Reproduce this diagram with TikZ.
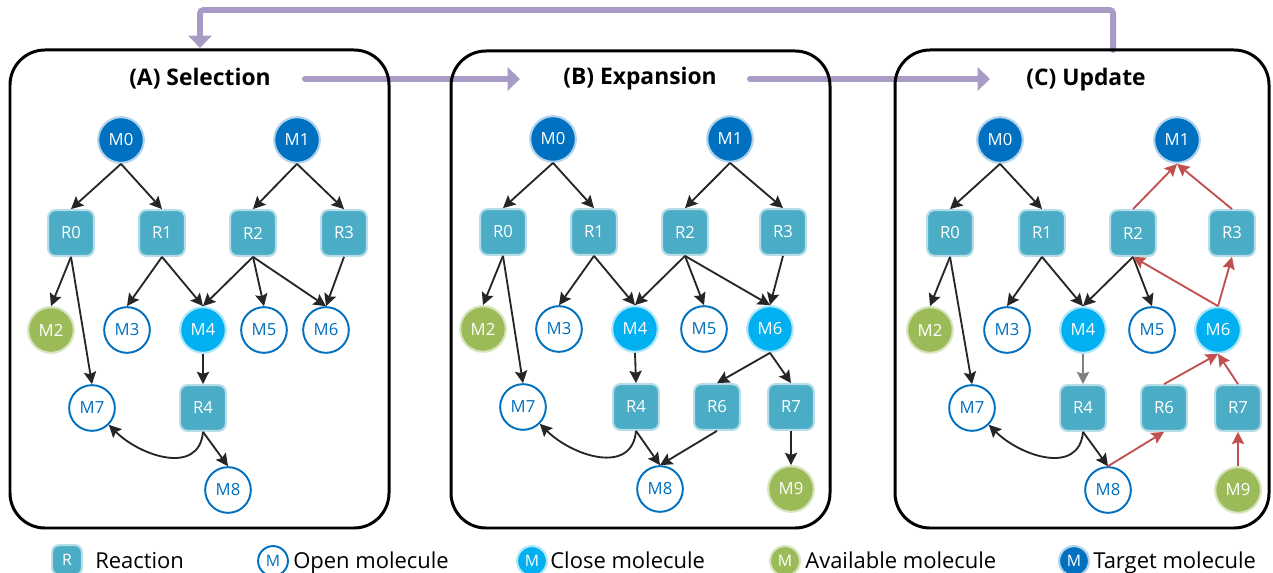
\documentclass[tikz,border=0pt]{standalone}
\usepackage{fontspec}
\setmainfont{Open Sans}
\usetikzlibrary{arrows.meta, positioning, calc}

\definecolor{tgtblue}{HTML}{0070C0}
\definecolor{clsblue}{HTML}{00B0F0}
\definecolor{avgreen}{HTML}{9BBB59}
\definecolor{rxteal}{HTML}{4BACC6}
\definecolor{flowpurple}{HTML}{A89BC6}
\definecolor{updred}{HTML}{C0504D}
\definecolor{edgeblack}{HTML}{262626}

\begin{document}
\begin{tikzpicture}[
    x=0.02cm, y=-0.02cm,
    mol/.style={circle, minimum size=26pt, inner sep=0pt, font=\fontsize{9.5}{11}\selectfont},
    targetmol/.style={mol, fill=tgtblue, draw=tgtblue!30, line width=1.2pt, text=white},
    closemol/.style={mol, fill=clsblue, draw=clsblue!30, line width=1.2pt, text=white},
    availmol/.style={mol, fill=avgreen, draw=avgreen!40, line width=1.2pt, text=white},
    openmol/.style={mol, fill=white, draw=tgtblue, line width=1.1pt, text=tgtblue},
    rxn/.style={rectangle, rounded corners=4pt, minimum size=26pt, inner sep=0pt, fill=rxteal, draw=rxteal!40, line width=1.2pt, text=white, font=\fontsize{9.5}{11}\selectfont},
    arr/.style={-{Stealth[length=7pt, width=7pt, inset=1.2pt]}, line width=1.05pt, edgeblack},
    redarr/.style={arr, updred},
    grayarr/.style={arr, black!50},
    flow/.style={line width=3.4pt, flowpurple, -{Triangle[length=7pt, width=13pt]}, line cap=round},
    panel/.style={line width=1.7pt, rounded corners=0.7cm},
    ptitle/.style={font=\bfseries\fontsize{13}{15}\selectfont},
    legtxt/.style={anchor=base west, inner sep=0pt, font=\fontsize{12.5}{15}\selectfont},
]
\useasboundingbox (0,0) rectangle (1273,573);

% ── Flow between stages ──
\coordinate (fbStart) at (1113,50);
\coordinate (fbEnd) at (200,48);
\coordinate (abStart) at (305,79);
\coordinate (abEnd) at (520,79);
\coordinate (bcStart) at (750,79);
\coordinate (bcEnd) at (990,79);
\draw[flow, rounded corners=2pt] (fbStart) -- ++(0,-40) -| (fbEnd);
\draw[flow] (abStart) -- (abEnd);
\draw[flow] (bcStart) -- (bcEnd);

% ── Panels ──
\draw[panel] (10,50) rectangle (389,528);
\draw[panel] (451,51) rectangle (830,528);
\draw[panel] (895,50) rectangle (1269,528);

\node[ptitle] (tA) at (200,79) {(A) Selection};
\node[ptitle] (tB) at (640,79) {(B) Expansion};
\node[ptitle] (tC) at (1086,80) {(C) Update};

% ── (A) Selection ──
\node[targetmol] (aM0) at (121,140) {M0};
\node[targetmol] (aM1) at (297,140) {M1};
\node[rxn] (aR0) at (71,233) {R0};
\node[rxn] (aR1) at (162,233) {R1};
\node[rxn] (aR2) at (253,233) {R2};
\node[rxn] (aR3) at (344,233) {R3};
\node[availmol] (aM2) at (51,330) {M2};
\node[openmol] (aM3) at (127,330) {M3};
\node[closemol] (aM4) at (203,330) {M4};
\node[openmol] (aM5) at (264,330) {M5};
\node[openmol] (aM6) at (326,330) {M6};
\node[openmol] (aM7) at (92,408) {M7};
\node[rxn] (aR4) at (203,408) {R4};
\node[openmol] (aM8) at (228,490) {M8};

\draw[arr] (aM0.south) -- (aR0.north);
\draw[arr] (aM0.south) -- (aR1.north);
\draw[arr] (aM1.south) -- (aR2.north);
\draw[arr] (aM1.south) -- (aR3.north);
\draw[arr] (aR0.south) -- (aM2.north);
\draw[arr] (aR0.south) -- (aM7.north);
\draw[arr] (aR1.south) -- (aM3.north);
\draw[arr] (aR1.south) -- (aM4.north);
\draw[arr] (aR2.south) -- (aM4.north);
\draw[arr] (aR2.south) -- (aM5.north);
\draw[arr] (aR2.south) -- (aM6.north);
\draw[arr] (aR3.south) -- (aM6.north);
\draw[arr] (aM4.south) -- (aR4.north);
\draw[arr] (aR4.south) -- (aM8.north);
\draw[arr] (aR4.south) to[out=-95, in=-45, looseness=1.2] (aM7.south east);

% ── (B) Expansion ──
\node[targetmol] (bM0) at (553,139) {M0};
\node[targetmol] (bM1) at (730,139) {M1};
\node[rxn] (bR0) at (503,232) {R0};
\node[rxn] (bR1) at (594,232) {R1};
\node[rxn] (bR2) at (685,232) {R2};
\node[rxn] (bR3) at (783,232) {R3};
\node[availmol] (bM2) at (483,329) {M2};
\node[openmol] (bM3) at (559,329) {M3};
\node[closemol] (bM4) at (635,329) {M4};
\node[openmol] (bM5) at (704,329) {M5};
\node[closemol] (bM6) at (770,329) {M6};
\node[openmol] (bM7) at (523,407) {M7};
\node[rxn] (bR4) at (636,407) {R4};
\node[rxn] (bR6) at (717,407) {R6};
\node[rxn] (bR7) at (791,407) {R7};
\node[openmol] (bM8) at (660,489) {M8};
\node[availmol] (bM9) at (791,489) {M9};

\draw[arr] (bM0.south) -- (bR0.north);
\draw[arr] (bM0.south) -- (bR1.north);
\draw[arr] (bM1.south) -- (bR2.north);
\draw[arr] (bM1.south) -- (bR3.north);
\draw[arr] (bR0.south) -- (bM2.north);
\draw[arr] (bR0.south) -- (bM7.north);
\draw[arr] (bR1.south) -- (bM3.north);
\draw[arr] (bR1.south) -- (bM4.north);
\draw[arr] (bR2.south) -- (bM4.north);
\draw[arr] (bR2.south) -- (bM5.north);
\draw[arr] (bR2.south) -- (bM6.north);
\draw[arr] (bR3.south) -- (bM6.north);
\draw[arr] (bM4.south) -- (bR4.north);
\draw[arr] (bM6.south) -- (bR6.north);
\draw[arr] (bM6.south) -- (bR7.north);
\draw[arr] (bR4.south) -- (bM8.north);
\draw[arr] (bR6.south) -- (bM8.north);
\draw[arr] (bR7.south) -- (bM9.north);
\draw[arr] (bR4.south) to[out=-95, in=-45, looseness=1.2] (bM7.south east);

% ── (C) Update ──
\node[targetmol] (cM0) at (1000,140) {M0};
\node[targetmol] (cM1) at (1177,140) {M1};
\node[rxn] (cR0) at (950,233) {R0};
\node[rxn] (cR1) at (1042,233) {R1};
\node[rxn] (cR2) at (1133,233) {R2};
\node[rxn] (cR3) at (1232,233) {R3};
\node[availmol] (cM2) at (930,330) {M2};
\node[openmol] (cM3) at (1007,330) {M3};
\node[closemol] (cM4) at (1083,330) {M4};
\node[openmol] (cM5) at (1152,330) {M5};
\node[closemol] (cM6) at (1218,330) {M6};
\node[openmol] (cM7) at (972,408) {M7};
\node[rxn] (cR4) at (1083,408) {R4};
\node[rxn] (cR6) at (1164,408) {R6};
\node[rxn] (cR7) at (1238,408) {R7};
\node[openmol] (cM8) at (1108,490) {M8};
\node[availmol] (cM9) at (1238,490) {M9};

\draw[arr] (cM0.south) -- (cR0.north);
\draw[arr] (cM0.south) -- (cR1.north);
\draw[arr] (cR0.south) -- (cM2.north);
\draw[arr] (cR0.south) -- (cM7.north);
\draw[arr] (cR1.south) -- (cM3.north);
\draw[arr] (cR1.south) -- (cM4.north);
\draw[arr] (cR2.south) -- (cM4.north);
\draw[arr] (cR2.south) -- (cM5.north);
\draw[grayarr] (cM4.south) -- (cR4.north);
\draw[arr] (cR4.south) -- (cM8.north);
\draw[arr] (cR4.south) to[out=-95, in=-45, looseness=1.2] (cM7.south east);
% backed-up values
\draw[redarr] (cM9.north) -- (cR7.south);
\draw[redarr] (cM8.north) -- (cR6.south);
\draw[redarr] (cR6.north) -- (cM6.south);
\draw[redarr] (cR7.north) -- (cM6.south);
\draw[redarr] (cM6.north) -- (cR2.south);
\draw[redarr] (cM6.north) -- (cR3.south);
\draw[redarr] (cR2.north) -- (cM1.south);
\draw[redarr] (cR3.north) -- (cM1.south);

% ── Legend ──
\node[rxn, minimum size=17pt, font=\fontsize{9}{10}\selectfont] (legR) at (67,560) {R};
\node[legtxt] (legRtxt) at (95,568) {Reaction};
\node[openmol, minimum size=17pt, line width=1.1pt, font=\fontsize{9}{10}\selectfont] (legO) at (273,561) {M};
\node[legtxt] (legOtxt) at (293,568) {Open molecule};
\node[closemol, minimum size=17pt, font=\fontsize{9}{10}\selectfont] (legC) at (532,561) {M};
\node[legtxt] (legCtxt) at (550,568) {Close molecule};
\node[availmol, minimum size=17pt, font=\fontsize{9}{10}\selectfont] (legA) at (785,561) {M};
\node[legtxt] (legAtxt) at (805,568) {Available molecule};
\node[targetmol, minimum size=17pt, font=\fontsize{9}{10}\selectfont] (legT) at (1074,561) {M};
\node[legtxt] (legTtxt) at (1093,568) {Target molecule};

\end{tikzpicture}
\end{document}
